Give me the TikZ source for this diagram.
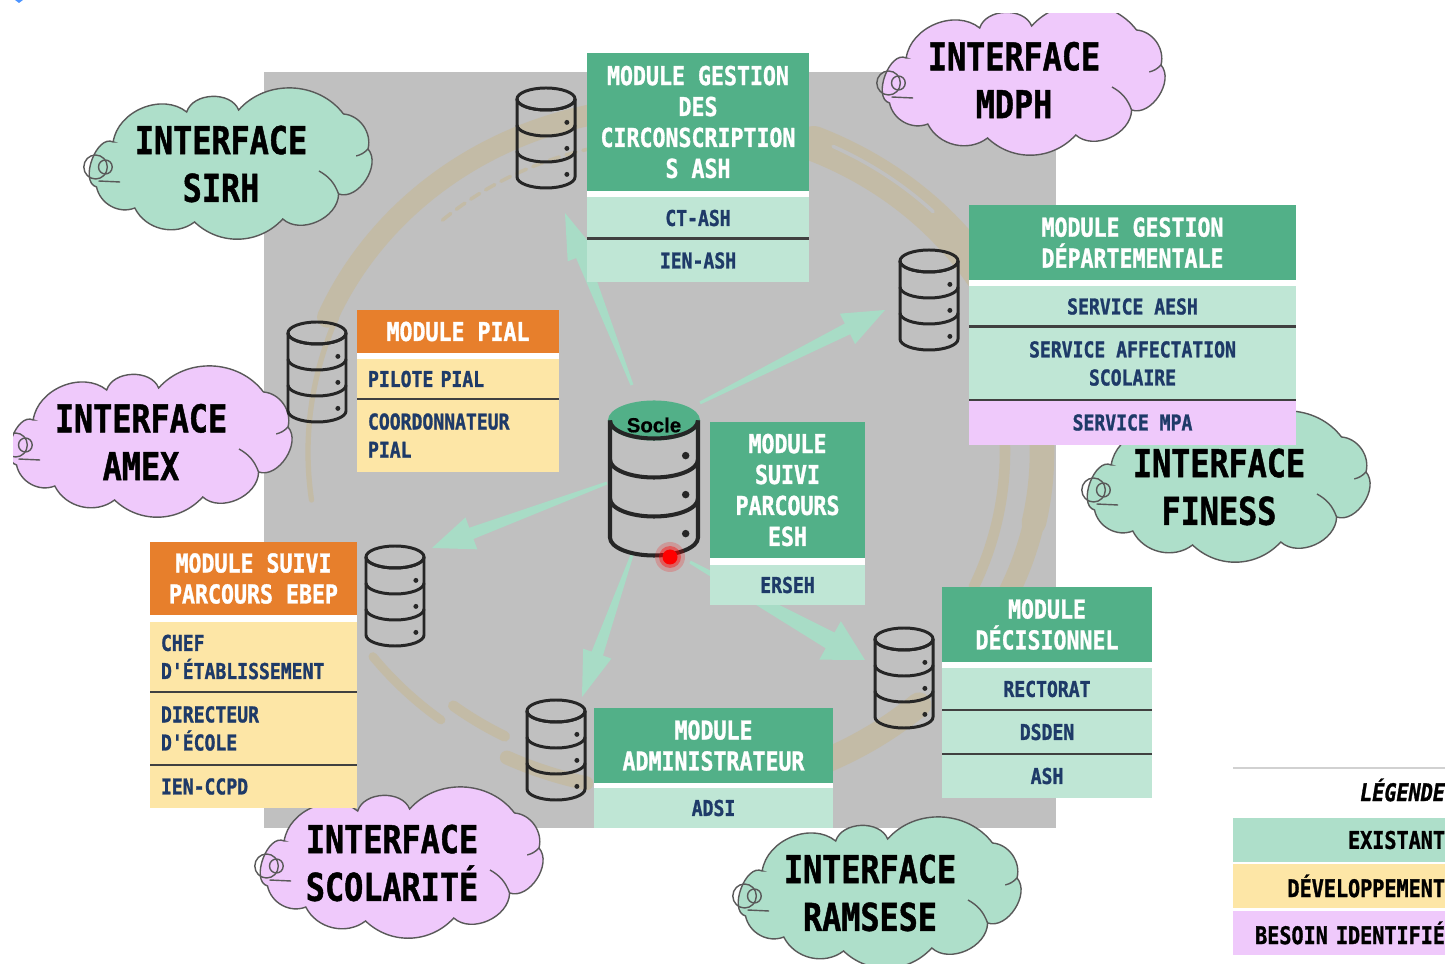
\documentclass[tikz,border=0pt]{standalone}
\usepackage{fontspec}
\usetikzlibrary{calc}
\newfontfamily\labelfont[FakeStretch=0.83,FakeBold=1.2]{DejaVu Sans Mono Bold}
\newfontfamily\labelslant[FakeStretch=0.83,FakeBold=1.2]{DejaVu Sans Mono Bold Oblique}
\newfontfamily\soclefont[FakeBold=0.6]{Liberation Sans Bold}
\definecolor{modgreen}{HTML}{52B088}
\definecolor{rowgreen}{HTML}{BFE6D5}
\definecolor{cloudmint}{HTML}{AEDFCA}
\definecolor{modorange}{HTML}{E77F2C}
\definecolor{rowyellow}{HTML}{FDE6A6}
\definecolor{rowpurple}{HTML}{EFC9FB}
\definecolor{rownavy}{HTML}{1E3A68}
\definecolor{planegray}{HTML}{C0C0C0}
\definecolor{ringtan}{HTML}{C3BBA6}
\definecolor{arrowmint}{HTML}{A8DCC6}
\tikzset{
	cell/.style={anchor=north west, inner sep=0pt, outer sep=0pt, align=center},
	headcell/.style={cell, text=white, font=\labelfont\fontsize{7.4}{8.8}\selectfont},
	rowcell/.style={cell, text=rownavy, font=\labelfont\fontsize{6.2}{8}\selectfont},
	leftcell/.style={rowcell, align=left, inner xsep=1.1mm},
	rowline/.style={line width=0.85pt, color=black!75},
	cloudline/.style={draw=black!65, line width=0.4pt},
	cloudtext/.style={inner sep=0pt, align=center, font=\labelfont\fontsize{10.9}{13.6}\selectfont},
	legendcell/.style={cell, align=right, minimum width=21.2mm, text width=21.2mm, minimum height=4.4mm, font=\labelfont\fontsize{6.9}{8}\selectfont},
	dbline/.style={line width=0.85pt, black!85},
}
% cylinder: name, centre, half width : height : half height of the ellipses, options of the top
\def\dbstack(#1)(#2)(#3:#4:#5)[#6]{
	\node[inner sep=0pt, minimum width=2*#3*0.1mm, minimum height=#4*0.1mm] (#1) at (#2) {};
	\pgfmathsetmacro\dbtop{-#4/2+#5}
	\pgfmathsetmacro\dblow{#4/2-#5}
	\pgfmathsetmacro\dbstep{(\dblow-\dbtop)/3}
	\begin{scope}[shift={(#2)}]
		\draw[dbline, #6] (0,\dbtop) ellipse (#3 and #5);
		\draw[dbline] (-#3,\dbtop) arc (180:0:#3 and #5);
		\draw[dbline] (-#3,\dbtop) -- (-#3,\dblow) arc (180:0:#3 and #5) -- (#3,\dbtop);
		\foreach \k in {1,2} {\draw[dbline] (-#3,{\dbtop+\k*\dbstep}) arc (180:0:#3 and #5);}
		\foreach \k in {1,2,3} {\fill[black!85] ({0.72*#3},{\dbtop+\k*\dbstep-0.1*\dbstep}) circle ({0.085*#3});}
	\end{scope}
}
% tapered arrow
\def\wedgearrow(#1)(#2)(#3:#4:#5){
	\coordinate (wneck) at ($(#2)!#3mm!(#1)$);
	\fill[arrowmint] ($(#1)!0.15mm!90:(#2)$) -- ($(wneck)!#4mm!90:(#2)$) -- ($(wneck)!#5mm!90:(#2)$) -- (#2)
		-- ($(wneck)!#5mm!-90:(#2)$) -- ($(wneck)!#4mm!-90:(#2)$) -- ($(#1)!0.15mm!-90:(#2)$) -- cycle;
}
% cloud outline round the text node
\def\cloudbox(#1)(#2)[#3]#4{
	\begin{scope}[shift={(#2)}, xscale=0.98]
		\draw[cloudline, fill=#3] (-110,-22) to[bend left=60] (-35,-52) to[bend left=70] (18,-54) to[bend left=50] (125,-50)
			to[bend left=50] (150,-15) to[bend left=75] (120,30) to[bend left=65] (63,55) to[bend left=45] (-27,58)
			to[bend left=50] (-88,44) to[bend left=50] (-127,23) to[bend left=95] cycle;
		\draw[cloudline] (138,-8) to[bend right=15] (150,-15);
		\draw[cloudline] (100,7) to[bend left=20] (120,30);
		\draw[cloudline] (-128,3) circle (12);
		\draw[cloudline] (-118,3) circle (7);
		\draw[cloudline] (-125,17) -- (-103,18);
	\end{scope}
	\node[cloudtext] (#1) at (#2) {#4};
}
% piece of the ring
\def\ringarc(#1:#2:#3:#4)[#5]{\draw[ringtan, line cap=round, #5] ($(670,452)+({#3*cos(#1)},{#4*sin(#1)})$) arc (#1:#2:#3 and #4);}
\begin{document}
\begin{tikzpicture}[x=0.1mm, y=-0.1mm]
	\clip (0,0) rectangle (1445,964);
	\fill[white] (0,0) rectangle (1445,964);
	\fill[planegray] (264,72) rectangle (1056,828);
	
	%%%%% ring %%%%%
	\ringarc(203:268:372:345)[line width=6pt]
	\ringarc(268:295:360:335)[line width=8pt]
	\ringarc(172:203:362:345)[line width=1.5pt]
	\ringarc(228:258:340:312)[line width=1pt, densely dashed]
	\ringarc(293:335:368:335)[line width=10pt]
	\ringarc(296:315:372:340)[line width=1pt, planegray]
	\ringarc(335:372:372:340)[line width=7pt]
	\ringarc(352:385:335:320)[line width=3pt]
	\ringarc(372:395:372:340)[line width=6pt]
	\ringarc(48:72:372:340)[line width=7pt]
	\ringarc(103:116:372:340)[line width=4pt]
	\ringarc(118:128:352:322)[line width=3pt]
	\ringarc(128:143:372:340)[line width=2.5pt]
	
	%%%%% clouds %%%%%
	\cloudbox(sirh)(221,164)[cloudmint]{INTERFACE\\SIRH}
	\cloudbox(mdph)(1014,80)[rowpurple]{INTERFACE\\MDPH}
	\cloudbox(amex)(141,442)[rowpurple]{INTERFACE\\AMEX}
	\cloudbox(finess)(1219,487)[cloudmint]{INTERFACE\\FINESS}
	\cloudbox(scol)(392,863)[rowpurple]{INTERFACE\\SCOLARITÉ}
	\cloudbox(ramsese)(870,893)[cloudmint]{INTERFACE\\RAMSESE}
	\fill[white] (0,0) rectangle (1445,13);
	\fill[white] (0,0) rectangle (13,964);
	\fill[blue!60!cyan!70] (15,0) -- (23,0) -- (19,3) -- cycle;
	
	%%%%% arrows %%%%%
	\coordinate (gestionfrom) at (632,385);
	\coordinate (gestiontip) at (565,213);
	\coordinate (depfrom) at (700,403);
	\coordinate (deptip) at (885,310);
	\coordinate (ebepfrom) at (607,483);
	\coordinate (ebeptip) at (432,548);
	\coordinate (adminfrom) at (632,555);
	\coordinate (admintip) at (582,697);
	\coordinate (decfrom) at (690,562);
	\coordinate (dectip) at (865,660);
	\wedgearrow(gestionfrom)(gestiontip)(4.6:0.6:1.5)
	\wedgearrow(depfrom)(deptip)(4.2:0.6:1.7)
	\wedgearrow(ebepfrom)(ebeptip)(4.2:0.6:1.7)
	\wedgearrow(adminfrom)(admintip)(4.6:0.6:1.5)
	\wedgearrow(decfrom)(dectip)(4.0:0.9:2.2)
	
	%%%%% cylinders %%%%%
	\dbstack(dbgestion)(546,138)(29:100:11)[]
	\dbstack(dbdep)(929,300)(29:100:11)[]
	\dbstack(dbpial)(317,372)(29:100:11)[]
	\dbstack(dbebep)(395,596)(29:100:11)[]
	\dbstack(dbadmin)(556,750)(29:100:11)[]
	\dbstack(dbdec)(904,678)(29:100:11)[]
	\begin{scope}[dbline/.append style={line width=1.15pt}]
		\dbstack(socle)(654,479)(44:153:18)[draw=modgreen, fill=modgreen]
	\end{scope}
	\node[inner sep=0pt, font=\soclefont\fontsize{5.8}{7}\selectfont] (socletext) at (654,425) {Socle};
	
	%%%%% gestion des circonscriptions %%%%%
	\node[headcell, fill=modgreen, minimum width=22.2mm, minimum height=13.8mm] (gestionhead) at (587,53) {MODULE GESTION\\DES\\CIRCONSCRIPTION\\S ASH};
	\node[rowcell, fill=rowgreen, minimum width=22.2mm, minimum height=4.2mm] (ctash) at (587,197) {CT-ASH};
	\node[rowcell, fill=rowgreen, minimum width=22.2mm, minimum height=4.3mm] (ienash) at (587,239) {IEN-ASH};
	\fill[white] (gestionhead.south west) rectangle (ctash.north east);
	\draw[rowline] (ctash.south west) -- (ctash.south east);
	
	%%%%% gestion departementale %%%%%
	\node[headcell, fill=modgreen, minimum width=32.7mm, minimum height=7.5mm] (dephead) at (969,205) {MODULE GESTION\\DÉPARTEMENTALE};
	\node[rowcell, fill=rowgreen, minimum width=32.7mm, minimum height=4.1mm] (aesh) at (969,286) {SERVICE AESH};
	\node[rowcell, fill=rowgreen, minimum width=32.7mm, minimum height=7.3mm] (affect) at (969,327) {SERVICE AFFECTATION\\SCOLAIRE};
	\node[rowcell, fill=rowpurple, minimum width=32.7mm, minimum height=4.5mm] (mpa) at (969,400) {SERVICE  MPA};
	\fill[white] (dephead.south west) rectangle (aesh.north east);
	\draw[rowline] (aesh.south west) -- (aesh.south east);
	\draw[rowline] (affect.south west) -- (affect.south east);
	
	%%%%% pial %%%%%
	\node[headcell, fill=modorange, minimum width=20.2mm, minimum height=4.3mm] (pialhead) at (357,310) {MODULE PIAL};
	\node[leftcell, fill=rowyellow, text width=18mm, minimum height=4.0mm] (pilote) at (357,359) {PILOTE PIAL};
	\node[leftcell, fill=rowyellow, text width=18mm, minimum height=7.3mm] (coord) at (357,399) {COORDONNATEUR\\PIAL};
	\fill[white] (pialhead.south west) rectangle (pilote.north east);
	\draw[rowline] (pilote.south west) -- (pilote.south east);
	
	%%%%% suivi esh %%%%%
	\node[headcell, fill=modgreen, minimum width=15.5mm, minimum height=13.6mm] (eshhead) at (710,422) {MODULE\\SUIVI\\PARCOURS\\ESH};
	\node[rowcell, fill=rowgreen, minimum width=15.5mm, minimum height=4mm] (erseh) at (710,565) {ERSEH};
	\fill[white] (eshhead.south west) rectangle (erseh.north east);
	
	%%%%% suivi ebep %%%%%
	\node[headcell, fill=modorange, minimum width=20.7mm, minimum height=7.3mm] (ebephead) at (150,542) {MODULE SUIVI\\PARCOURS EBEP};
	\node[leftcell, fill=rowyellow, text width=18.5mm, minimum height=7mm] (chef) at (150,622) {CHEF\\D'ÉTABLISSEMENT};
	\node[leftcell, fill=rowyellow, text width=18.5mm, minimum height=7.3mm] (directeur) at (150,692) {DIRECTEUR\\D'ÉCOLE};
	\node[leftcell, fill=rowyellow, text width=18.5mm, minimum height=4.3mm] (ienccpd) at (150,765) {IEN-CCPD};
	\fill[white] (ebephead.south west) rectangle (chef.north east);
	\draw[rowline] (chef.south west) -- (chef.south east);
	\draw[rowline] (directeur.south west) -- (directeur.south east);
	
	%%%%% administrateur %%%%%
	\node[headcell, fill=modgreen, minimum width=23.9mm, minimum height=7.5mm] (adminhead) at (594,708) {MODULE\\ADMINISTRATEUR};
	\node[rowcell, fill=rowgreen, minimum width=23.9mm, minimum height=4mm] (adsi) at (594,788) {ADSI};
	\fill[white] (adminhead.south west) rectangle (adsi.north east);
	
	%%%%% decisionnel %%%%%
	\node[headcell, fill=modgreen, minimum width=21mm, minimum height=7.5mm] (dechead) at (942,587) {MODULE\\DÉCISIONNEL};
	\node[rowcell, fill=rowgreen, minimum width=21mm, minimum height=4.2mm] (rectorat) at (942,668) {RECTORAT};
	\node[rowcell, fill=rowgreen, minimum width=21mm, minimum height=4.4mm] (dsden) at (942,710) {DSDEN};
	\node[rowcell, fill=rowgreen, minimum width=21mm, minimum height=4.4mm] (ashrow) at (942,754) {ASH};
	\fill[white] (dechead.south west) rectangle (rectorat.north east);
	\draw[rowline] (rectorat.south west) -- (rectorat.south east);
	\draw[rowline] (dsden.south west) -- (dsden.south east);
	
	%%%%% red dot %%%%%
	\fill[red, opacity=0.2] (670,557) circle (15);
	\fill[red, opacity=0.4] (670,557) circle (11);
	\fill[red] (670,557) circle (7.5);
	
	%%%%% legend %%%%%
	\node[legendcell, fill=white] (legtitle) at (1233,768) {\labelslant LÉGENDE};
	\node[legendcell, fill=cloudmint] (legexist) at (1233,818) {EXISTANT};
	\node[legendcell, fill=rowyellow] (legdev) at (1233,864) {DÉVELOPPEMENT};
	\node[legendcell, fill=rowpurple] (legbesoin) at (1233,911) {BESOIN IDENTIFIÉ};
	\draw[black!18, line width=0.5pt] (legtitle.north west) -- (legtitle.north east);
\end{tikzpicture}
\end{document}
